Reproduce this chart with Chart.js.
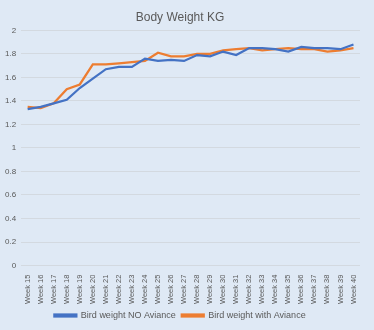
<!DOCTYPE html>
<html>
<head>
<meta charset="utf-8">
<script src="https://cdn.jsdelivr.net/npm/chart.js@4/dist/chart.umd.min.js"></script>
<style>
  html, body { margin: 0; padding: 0; background: #dfe9f5; }
  #wrap { width: 374px; height: 330px; position: relative; }
</style>
</head>
<body>
<div id="wrap"><canvas id="chart"></canvas></div>
<script>
// weeks on the x axis
const weeks = ['Week 15', 'Week 16', 'Week 17', 'Week 18', 'Week 19', 'Week 20', 'Week 21',
  'Week 22', 'Week 23', 'Week 24', 'Week 25', 'Week 26', 'Week 27', 'Week 28', 'Week 29',
  'Week 30', 'Week 31', 'Week 32', 'Week 33', 'Week 34', 'Week 35', 'Week 36', 'Week 37',
  'Week 38', 'Week 39', 'Week 40'];

// body weight in kg
const noAviance = [1.33, 1.35, 1.38, 1.41, 1.51, 1.59, 1.67, 1.69, 1.69, 1.76, 1.74, 1.75, 1.74,
  1.79, 1.78, 1.82, 1.79, 1.85, 1.85, 1.84, 1.82, 1.86, 1.85, 1.85, 1.84, 1.88];
const withAviance = [1.35, 1.34, 1.38, 1.50, 1.54, 1.71, 1.71, 1.72, 1.73, 1.74, 1.81, 1.78, 1.78,
  1.80, 1.80, 1.83, 1.84, 1.85, 1.83, 1.84, 1.85, 1.84, 1.84, 1.82, 1.83, 1.85];

const BLUE = '#4472c4';
const ORANGE = '#ed7d31';
const TEXT = '#595959';

Chart.defaults.font.family = "'Liberation Sans', Arial, sans-serif";
Chart.defaults.color = TEXT;

const ctx = document.getElementById('chart').getContext('2d');
new Chart(ctx, {
  type: 'line',
  data: {
    labels: weeks,
    datasets: [
      {
        label: 'Bird weight NO Aviance',
        data: noAviance,
        borderColor: BLUE,
        backgroundColor: BLUE,
        borderWidth: 2.25,
        pointRadius: 0,
        tension: 0
      },
      {
        label: 'Bird weight with Aviance',
        data: withAviance,
        borderColor: ORANGE,
        backgroundColor: ORANGE,
        borderWidth: 2.25,
        pointRadius: 0,
        tension: 0
      }
    ]
  },
  options: {
    responsive: true,
    maintainAspectRatio: false,
    animation: false,
    layout: { padding: { top: 6, right: 14, left: 0, bottom: 0 } },
    plugins: {
      title: {
        display: true,
        text: 'Body Weight KG',
        color: TEXT,
        font: { size: 12, weight: 'normal' },
        padding: { top: 4, bottom: 6 }
      },
      legend: {
        position: 'bottom',
        labels: {
          boxWidth: 22,
          boxHeight: 2,
          padding: 6,
          font: { size: 9 },
          color: TEXT
        }
      },
      tooltip: { enabled: false }
    },
    scales: {
      x: {
        offset: true,
        grid: { display: false },
        border: { display: false },
        ticks: {
          minRotation: 90,
          maxRotation: 90,
          autoSkip: false,
          font: { size: 7.5 },
          color: TEXT,
          padding: 1
        }
      },
      y: {
        min: 0,
        max: 2,
        grid: { color: '#d3d9e0', drawTicks: false },
        border: { display: false },
        ticks: {
          stepSize: 0.2,
          font: { size: 8 },
          color: TEXT,
          padding: 5,
          callback: v => Math.round(v * 10) / 10
        }
      }
    }
  }
});
</script>
</body>
</html>
